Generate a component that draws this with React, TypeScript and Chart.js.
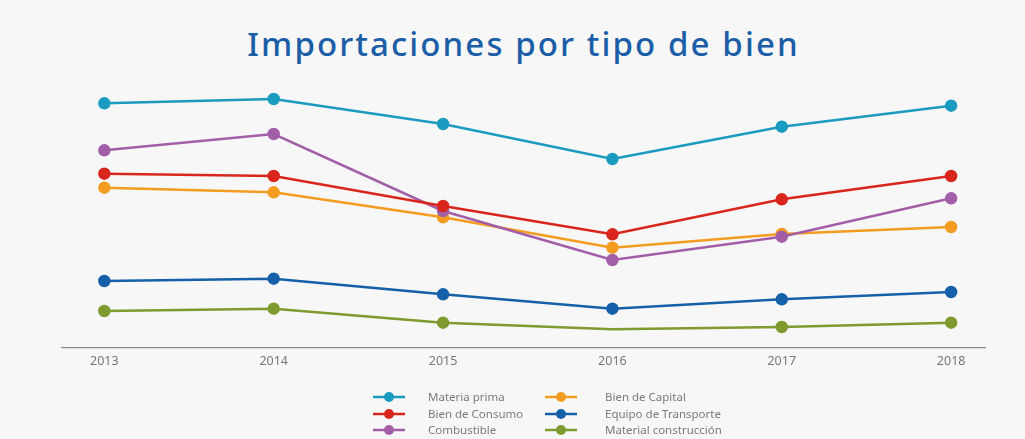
import React, { useEffect, useRef } from "react";
import { Chart, registerables } from "chart.js";

Chart.register(...registerables);

const years = ["2013", "2014", "2015", "2016", "2017", "2018"];
const seriesNames = [
  "Materia prima",
  "Bien de Consumo",
  "Combustible",
  "Bien de Capital",
  "Equipo de Transporte",
  "Material construcción",
];
const materiaPrima = [244.7, 249, 224, 189, 221.3, 242.3];
const bienConsumo = [174.3, 172, 142, 113.7, 148.7, 172];
const combustible = [197.7, 214, 137, 88, 111.3, 149.7];
const bienCapital = [160.3, 155.7, 130.7, 100.3, 114, 121];
const equipoTransporte = [67, 69.3, 53.7, 39.3, 48.7, 56];
const materialConstruccion = [37, 39.3, 25.3, 18.7, 21, 25.3];
const seriesColors = ["#1a9bbf", "#d9261c", "#a35ea8", "#f39c1f", "#1560a8", "#7f9a2e"];

const allSeries = [
  materiaPrima,
  bienConsumo,
  combustible,
  bienCapital,
  equipoTransporte,
  materialConstruccion,
];

const legendPlugin = {
  id: "gridLegend",
  afterDraw(chart: any) {
    const ctx = chart.ctx;
    const colLine = [389, 561];
    const colText = [428, 605];
    const rowY = [397, 414, 430];
    ctx.save();
    chart.data.datasets.forEach((ds: any, i: number) => {
      const col = Math.floor(i / 3);
      const row = i % 3;
      const cx = colLine[col];
      const cy = rowY[row];
      ctx.strokeStyle = ds.borderColor;
      ctx.lineWidth = 2.5;
      ctx.beginPath();
      ctx.moveTo(cx - 16, cy);
      ctx.lineTo(cx + 16, cy);
      ctx.stroke();
      ctx.fillStyle = ds.borderColor;
      ctx.beginPath();
      ctx.arc(cx, cy, 5, 0, Math.PI * 2);
      ctx.fill();
      ctx.fillStyle = "#7a7a7a";
      ctx.font = "11.5px 'Noto Sans'";
      ctx.textBaseline = "middle";
      ctx.textAlign = "left";
      ctx.fillText(ds.label, colText[col], cy + 1);
    });
    ctx.restore();
  },
};

export default function App() {
  const ref = useRef<HTMLCanvasElement>(null);
  useEffect(() => {
    document.body.style.margin = "0";
    const chart = new Chart(ref.current!, {
      type: "line",
      data: {
        datasets: allSeries.map((vals, i) => ({
          label: seriesNames[i],
          data: vals.map((v, j) => ({ x: Number(years[j]), y: v })),
          borderColor: seriesColors[i],
          backgroundColor: seriesColors[i],
          pointBackgroundColor: seriesColors[i],
          pointBorderColor: seriesColors[i],
          borderWidth: 2.5,
          pointRadius: vals.map((_, j) => (i === 5 && j === 3 ? 0 : 5)),
          tension: 0,
        })),
      },
      options: {
        animation: false,
        responsive: false,
        layout: { padding: { left: 62, right: 40, top: 80, bottom: 0 } },
        plugins: {
          legend: { display: false },
          title: { display: false },
          tooltip: { enabled: false },
        },
        scales: {
          x: {
            type: "linear",
            min: 2012.75,
            max: 2018.2,
            grid: { display: false, drawTicks: false },
            border: { display: true, color: "#8a8a8a", width: 1.2 },
            ticks: {
              stepSize: 1,
              includeBounds: false,
              padding: 6,
              color: "#777",
              font: { family: "'Noto Sans'", size: 12.5 },
              callback: (v: any) => (Number.isInteger(v) ? String(v) : ""),
            },
            afterFit: (scale: any) => {
              scale.height = 91;
            },
          },
          y: {
            display: false,
            min: 0,
            max: 268,
          },
        },
      },
      plugins: [legendPlugin],
    });
    return () => chart.destroy();
  }, []);

  return (
    <div
      style={{
        position: "relative",
        width: 1025,
        height: 439,
        background: "#f7f7f7",
        overflow: "hidden",
      }}
    >
      <div
        style={{
          position: "absolute",
          top: 24,
          left: 0,
          width: 1047,
          textAlign: "center",
          fontFamily: "'Noto Sans', sans-serif",
          fontWeight: 500,
          fontSize: 33,
          letterSpacing: "2.1px",
          color: "#1b5ea7",
          lineHeight: "40px",
          whiteSpace: "nowrap",
        }}
      >
        Importaciones por tipo de bien
      </div>
      <canvas
        ref={ref}
        width={1025}
        height={439}
        style={{ position: "absolute", top: 0, left: 0 }}
      />
    </div>
  );
}
